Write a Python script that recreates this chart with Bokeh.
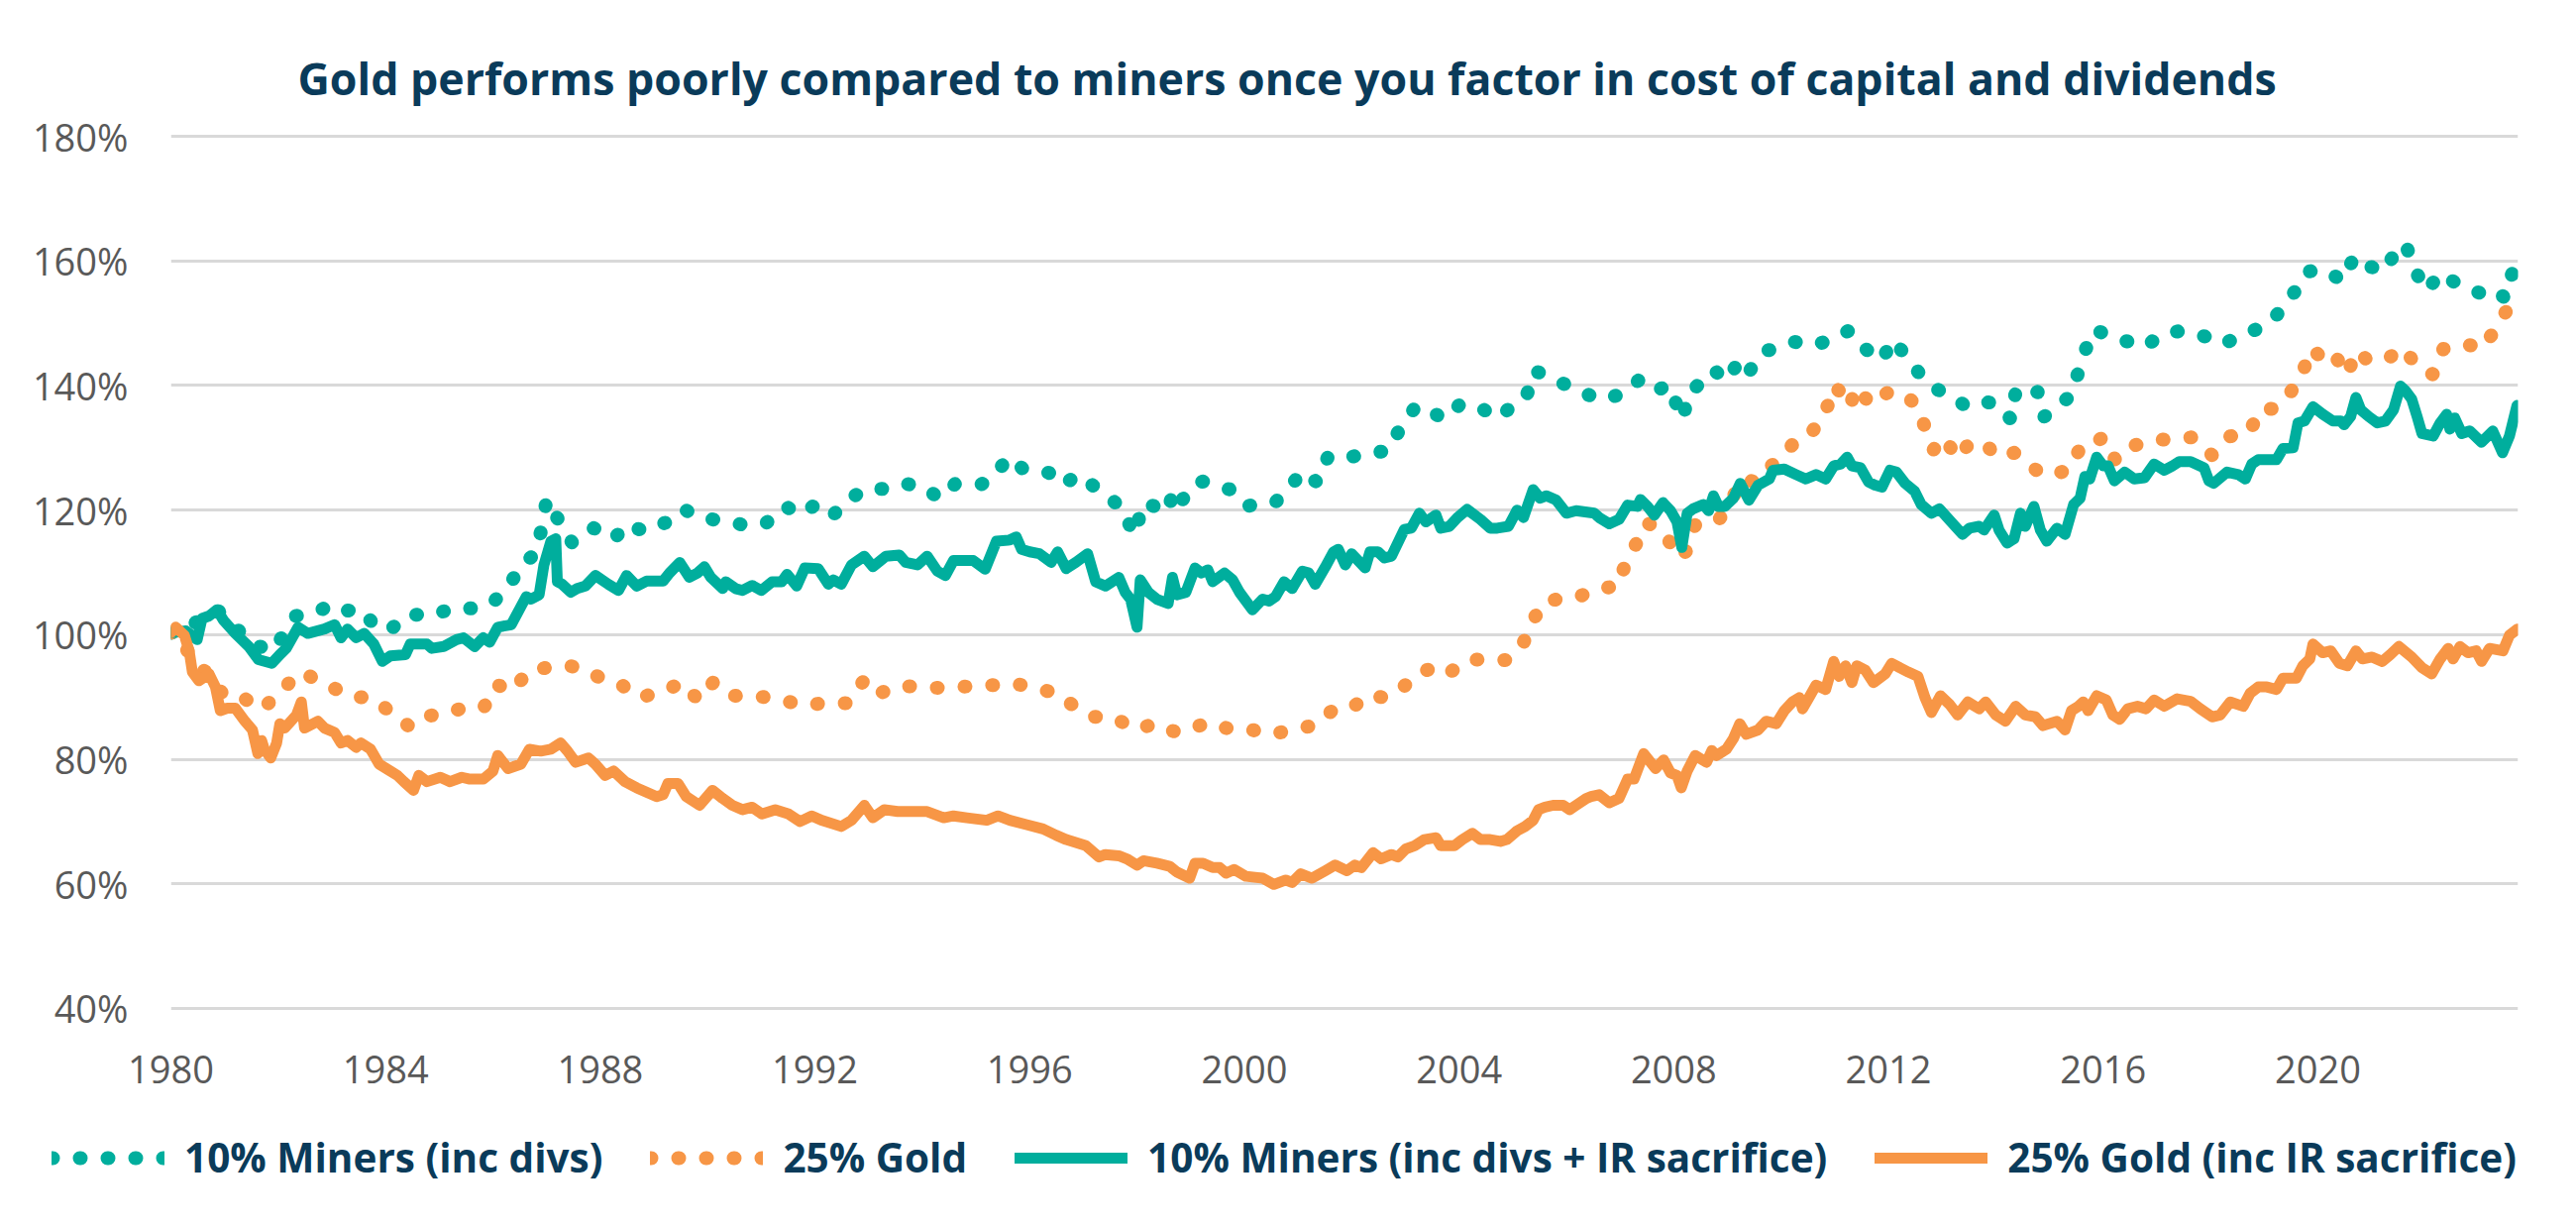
from bokeh.plotting import figure
from bokeh.layouts import column
from bokeh.models import (Range1d, FixedTicker, CustomJSTickFormatter,
                          Legend, LegendItem)
from bokeh.embed import file_html
from bokeh.resources import INLINE

TEAL = "#00AE9D"
ORANGE = "#F79646"
NAVY = "#0A3B5A"
GRAY = "#595959"

title_text = "Gold performs poorly compared to miners once you factor in cost of capital and dividends"
series_names = ["10% Miners (inc divs)", "25% Gold",
                "10% Miners (inc divs + IR sacrifice)", "25% Gold (inc IR sacrifice)"]
x_ticks = [1980, 1984, 1988, 1992, 1996, 2000, 2004, 2008, 2012, 2016, 2020]
y_ticks = [40, 60, 80, 100, 120, 140, 160, 180]

# ---- 10% Miners (inc divs) ----
miners_divs_year = [
    1980.00, 1980.28, 1980.55, 1980.71, 1980.86, 1981.20, 1981.50, 1981.91, 1982.06, 1982.33,
    1982.62, 1983.00, 1983.23, 1983.54, 1983.85, 1984.10, 1984.43, 1984.86, 1985.25, 1985.64,
    1985.95, 1986.29, 1986.52, 1986.80, 1986.91, 1987.00, 1987.11, 1987.48, 1987.88, 1988.26,
    1988.50, 1988.81, 1989.22, 1989.55, 1989.83, 1990.09, 1990.35, 1990.75, 1991.10, 1991.45,
    1991.73, 1992.07, 1992.36, 1992.66, 1992.97, 1993.27, 1993.60, 1993.99, 1994.32, 1994.61,
    1995.09, 1995.34, 1995.60, 1995.88, 1996.20, 1996.46, 1996.61, 1996.93, 1997.17, 1997.48,
    1997.73, 1997.91, 1998.01, 1998.06, 1998.21, 1998.58, 1998.68, 1998.85, 1999.05, 1999.23,
    1999.48, 1999.85, 2000.09, 2000.29, 2000.57, 2000.81, 2001.08, 2001.35, 2001.56, 2001.83,
    2002.08, 2002.31, 2002.66, 2002.91, 2003.19, 2003.48, 2003.68, 2004.04, 2004.42, 2004.74,
    2005.02, 2005.25, 2005.40, 2005.63, 2005.97, 2006.21, 2006.65, 2007.06, 2007.34, 2007.63,
    2007.91, 2008.09, 2008.17, 2008.28, 2008.58, 2008.74, 2009.01, 2009.22, 2009.41, 2009.67,
    2009.89, 2010.26, 2010.60, 2010.94, 2011.26, 2011.54, 2011.87, 2012.09, 2012.37, 2012.60,
    2012.83, 2013.17, 2013.46, 2013.77, 2014.03, 2014.29, 2014.37, 2014.56, 2014.78, 2014.89,
    2015.14, 2015.40, 2015.55, 2015.67, 2015.83, 2016.09, 2016.37, 2016.77, 2017.08, 2017.45,
    2017.89, 2018.20, 2018.57, 2018.76, 2019.05, 2019.33, 2019.58, 2019.80, 2020.12, 2020.46,
    2020.68, 2020.88, 2021.23, 2021.46, 2021.63, 2021.81, 2022.01, 2022.31, 2022.46, 2022.69,
    2023.01, 2023.30, 2023.49, 2023.63, 2023.72]
miners_divs_value = [
    100.3, 100.6, 102.6, 103.0, 104.0, 101.2, 98.5, 97.4, 99.5, 103.0,
    103.3, 104.8, 103.8, 104.1, 100.9, 100.9, 103.3, 103.0, 104.3, 104.2,
    104.8, 107.6, 111.2, 113.0, 117.2, 121.7, 120.0, 114.7, 117.1, 115.4,
    117.8, 116.6, 118.0, 120.2, 118.8, 118.5, 118.3, 117.4, 118.0, 120.6,
    119.3, 121.2, 119.4, 121.9, 123.5, 123.4, 124.3, 123.9, 121.9, 124.2,
    124.1, 125.4, 128.5, 126.6, 126.4, 125.7, 124.1, 125.7, 124.0, 121.9,
    120.4, 116.6, 116.2, 120.8, 121.0, 119.7, 123.5, 121.7, 124.2, 124.6,
    123.8, 123.1, 120.7, 121.1, 121.2, 123.3, 126.2, 124.5, 128.6, 128.3,
    128.7, 129.3, 129.4, 133.2, 136.6, 136.1, 134.6, 137.1, 136.3, 134.8,
    137.0, 138.1, 142.4, 141.6, 140.2, 139.2, 137.7, 138.7, 140.8, 139.0,
    140.1, 136.1, 134.6, 139.0, 140.8, 142.5, 140.8, 144.2, 142.3, 145.5,
    145.9, 147.0, 146.4, 147.4, 148.8, 146.1, 144.0, 147.4, 144.2, 141.7,
    139.7, 138.3, 136.6, 137.4, 137.1, 134.5, 139.0, 138.1, 139.0, 134.9,
    136.8, 138.3, 142.5, 145.7, 149.0, 148.1, 147.3, 146.2, 148.1, 148.8,
    147.9, 146.6, 147.9, 148.7, 149.7, 152.2, 155.2, 158.3, 158.6, 156.8,
    160.7, 159.4, 158.3, 161.6, 162.8, 158.6, 155.2, 158.1, 157.0, 156.0,
    154.9, 155.5, 154.0, 158.3, 158.6]

# ---- 25% Gold ----
gold_year = [
    1980.00, 1980.10, 1980.49, 1980.74, 1980.98, 1981.34, 1981.70, 1982.04, 1982.33, 1982.48,
    1982.71, 1983.09, 1983.35, 1983.72, 1984.03, 1984.42, 1984.60, 1985.00, 1985.40, 1985.83,
    1986.06, 1986.36, 1986.68, 1987.09, 1987.42, 1987.68, 1988.06, 1988.40, 1988.74, 1989.20,
    1989.52, 1989.83, 1990.11, 1990.46, 1990.93, 1991.32, 1991.78, 1992.15, 1992.60, 1992.90,
    1993.13, 1993.52, 1993.93, 1994.39, 1994.84, 1995.34, 1995.75, 1996.20, 1996.51, 1996.89,
    1997.21, 1997.54, 1997.98, 1998.34, 1998.74, 1999.03, 1999.34, 1999.74, 2000.09, 2000.52,
    2000.97, 2001.29, 2001.68, 2002.01, 2002.32, 2002.60, 2002.87, 2003.23, 2003.54, 2003.80,
    2004.17, 2004.50, 2004.87, 2005.18, 2005.38, 2005.61, 2005.86, 2006.18, 2006.55, 2006.97,
    2007.12, 2007.33, 2007.49, 2007.77, 2007.97, 2008.11, 2008.23, 2008.40, 2008.66, 2008.86,
    2009.11, 2009.25, 2009.54, 2009.83, 2010.03, 2010.33, 2010.55, 2010.75, 2010.90, 2011.00,
    2011.14, 2011.29, 2011.38, 2011.69, 2011.97, 2012.28, 2012.57, 2012.72, 2012.84, 2013.03,
    2013.29, 2013.51, 2013.78, 2014.03, 2014.34, 2014.54, 2014.86, 2015.17, 2015.40, 2015.58,
    2015.75, 2016.00, 2016.23, 2016.51, 2016.91, 2017.27, 2017.67, 2018.03, 2018.34, 2018.72,
    2018.92, 2019.18, 2019.46, 2019.71, 2019.86, 2020.14, 2020.29, 2020.55, 2020.71, 2020.94,
    2021.29, 2021.57, 2021.89, 2022.14, 2022.34, 2022.50, 2022.79, 2023.05, 2023.31, 2023.52,
    2023.72]
gold_value = [
    100.3, 100.6, 94.7, 93.7, 90.2, 89.9, 88.0, 90.9, 93.3, 94.0,
    92.6, 91.2, 90.0, 89.9, 88.0, 85.4, 86.9, 87.1, 88.1, 88.3,
    92.0, 91.0, 94.3, 94.8, 95.0, 94.5, 92.8, 91.9, 89.9, 91.0,
    92.3, 89.5, 92.4, 90.2, 90.1, 89.7, 88.6, 89.0, 89.0, 92.5,
    90.3, 91.7, 91.7, 91.4, 91.7, 91.9, 92.1, 91.2, 90.6, 88.1,
    86.8, 86.8, 84.8, 85.7, 84.3, 85.0, 85.9, 84.8, 84.8, 84.0,
    84.9, 85.4, 88.1, 88.3, 90.3, 89.9, 90.9, 93.7, 94.8, 93.8,
    95.9, 96.1, 95.9, 98.3, 102.4, 105.4, 105.7, 105.9, 107.3, 107.8,
    112.1, 115.0, 118.0, 116.8, 114.3, 112.3, 113.4, 117.6, 117.6, 118.7,
    122.1, 125.0, 124.5, 127.2, 128.8, 131.6, 132.3, 134.5, 137.4, 140.0,
    138.5, 136.6, 139.7, 136.9, 138.8, 138.8, 136.4, 132.1, 129.7, 131.7,
    128.3, 130.8, 130.8, 128.6, 129.2, 127.9, 125.7, 125.9, 126.8, 130.2,
    130.3, 131.7, 128.0, 130.2, 131.2, 131.4, 131.7, 128.8, 131.8, 132.4,
    136.1, 136.3, 138.5, 141.8, 145.9, 144.2, 145.2, 141.7, 145.6, 144.0,
    144.2, 146.1, 142.8, 141.8, 145.9, 145.9, 146.6, 145.9, 149.0, 152.1,
    153.0]

# ---- 10% Miners (inc divs + IR sacrifice) ----
miners_ir_year = [
    1980.00, 1980.28, 1980.49, 1980.58, 1980.71, 1980.86, 1980.98, 1981.20, 1981.45, 1981.63,
    1981.88, 1982.03, 1982.15, 1982.37, 1982.55, 1982.86, 1983.05, 1983.17, 1983.29, 1983.45,
    1983.60, 1983.78, 1983.94, 1984.09, 1984.37, 1984.46, 1984.77, 1984.86, 1985.08, 1985.32,
    1985.45, 1985.66, 1985.82, 1985.94, 1986.09, 1986.34, 1986.62, 1986.71, 1986.86, 1986.95,
    1987.08, 1987.17, 1987.20, 1987.29, 1987.45, 1987.57, 1987.72, 1987.91, 1988.15, 1988.34,
    1988.49, 1988.68, 1988.86, 1989.17, 1989.29, 1989.48, 1989.66, 1989.81, 1989.94, 1990.06,
    1990.28, 1990.34, 1990.52, 1990.65, 1990.83, 1991.00, 1991.20, 1991.38, 1991.48, 1991.66,
    1991.81, 1992.06, 1992.25, 1992.34, 1992.49, 1992.68, 1992.92, 1993.08, 1993.32, 1993.57,
    1993.69, 1993.91, 1994.09, 1994.28, 1994.43, 1994.58, 1994.95, 1995.17, 1995.38, 1995.63,
    1995.75, 1995.85, 1996.00, 1996.18, 1996.40, 1996.52, 1996.68, 1996.86, 1997.08, 1997.23,
    1997.41, 1997.66, 1997.78, 1997.88, 1998.00, 1998.06, 1998.21, 1998.37, 1998.58, 1998.66,
    1998.74, 1998.91, 1999.08, 1999.20, 1999.32, 1999.41, 1999.63, 1999.78, 1999.91, 2000.15,
    2000.34, 2000.46, 2000.58, 2000.74, 2000.89, 2001.08, 2001.20, 2001.32, 2001.51, 2001.66,
    2001.75, 2001.88, 2002.00, 2002.25, 2002.34, 2002.49, 2002.61, 2002.74, 2002.98, 2003.11,
    2003.26, 2003.38, 2003.57, 2003.66, 2003.82, 2003.97, 2004.15, 2004.40, 2004.58, 2004.71,
    2004.92, 2005.08, 2005.20, 2005.38, 2005.51, 2005.63, 2005.81, 2006.00, 2006.18, 2006.52,
    2006.61, 2006.80, 2006.98, 2007.14, 2007.32, 2007.38, 2007.51, 2007.64, 2007.80, 2007.94,
    2008.06, 2008.15, 2008.25, 2008.36, 2008.55, 2008.65, 2008.74, 2008.83, 2008.95, 2009.11,
    2009.24, 2009.40, 2009.57, 2009.78, 2009.85, 2010.06, 2010.28, 2010.46, 2010.65, 2010.83,
    2010.98, 2011.11, 2011.23, 2011.32, 2011.48, 2011.63, 2011.75, 2011.88, 2012.03, 2012.15,
    2012.31, 2012.49, 2012.61, 2012.80, 2012.95, 2013.17, 2013.38, 2013.51, 2013.69, 2013.78,
    2013.97, 2014.06, 2014.21, 2014.34, 2014.46, 2014.55, 2014.71, 2014.83, 2014.95, 2015.14,
    2015.29, 2015.45, 2015.57, 2015.66, 2015.75, 2015.88, 2016.00, 2016.09, 2016.21, 2016.40,
    2016.58, 2016.77, 2016.95, 2017.14, 2017.29, 2017.42, 2017.63, 2017.88, 2017.97, 2018.06,
    2018.31, 2018.52, 2018.65, 2018.77, 2018.89, 2019.05, 2019.23, 2019.35, 2019.54, 2019.63,
    2019.75, 2019.91, 2020.09, 2020.28, 2020.43, 2020.49, 2020.61, 2020.71, 2020.80, 2020.95,
    2021.11, 2021.26, 2021.41, 2021.54, 2021.63, 2021.75, 2021.85, 2021.94, 2022.15, 2022.28,
    2022.40, 2022.46, 2022.55, 2022.68, 2022.83, 2023.05, 2023.26, 2023.44, 2023.57, 2023.71]
miners_ir_value = [
    100.3, 100.6, 99.2, 102.6, 103.0, 104.0, 102.3, 100.2, 98.1, 96.0,
    95.4, 96.8, 97.8, 101.2, 100.2, 100.9, 101.6, 99.5, 100.9, 99.5,
    100.2, 98.5, 95.7, 96.6, 96.8, 98.5, 98.5, 97.8, 98.1, 99.2,
    99.5, 98.1, 99.5, 98.8, 101.2, 101.6, 106.1, 105.7, 106.4, 111.2,
    115.0, 115.4, 108.5, 108.1, 106.8, 107.4, 107.8, 109.5, 108.1, 107.1,
    109.5, 107.8, 108.6, 108.6, 109.9, 111.6, 109.2, 109.9, 110.9, 109.2,
    107.4, 108.5, 107.4, 107.1, 107.9, 107.1, 108.5, 108.5, 109.7, 107.8,
    110.7, 110.6, 108.1, 108.8, 108.1, 111.2, 112.6, 110.9, 112.6, 112.8,
    111.6, 111.2, 112.6, 110.2, 109.5, 111.9, 111.9, 110.5, 115.0, 115.2,
    115.7, 113.7, 113.3, 113.0, 111.6, 113.3, 110.6, 111.6, 113.0, 108.5,
    107.8, 109.2, 106.8, 105.7, 101.2, 108.8, 106.8, 105.7, 105.0, 109.2,
    106.4, 106.8, 110.7, 109.9, 110.4, 108.5, 109.9, 108.8, 106.8, 104.0,
    105.7, 105.4, 106.1, 108.5, 107.4, 110.2, 109.9, 108.1, 110.9, 113.3,
    113.7, 111.2, 113.0, 110.7, 113.3, 113.3, 112.3, 112.6, 116.9, 117.1,
    119.5, 118.1, 119.2, 117.1, 117.4, 118.8, 120.1, 118.5, 117.1, 117.1,
    117.4, 120.0, 118.8, 123.3, 121.9, 122.3, 121.6, 119.5, 119.9, 119.5,
    118.8, 117.8, 118.5, 120.8, 120.6, 121.7, 120.6, 119.2, 121.2, 119.9,
    118.1, 114.0, 119.5, 120.2, 120.9, 119.9, 122.3, 120.6, 120.6, 121.9,
    124.3, 121.6, 124.0, 125.0, 126.4, 126.6, 125.7, 125.0, 125.7, 125.0,
    127.1, 127.4, 128.5, 127.1, 126.8, 124.5, 124.0, 123.7, 126.4, 126.1,
    124.3, 123.0, 120.9, 119.5, 120.2, 118.1, 116.1, 117.1, 117.4, 116.8,
    119.2, 116.8, 114.7, 115.4, 119.5, 117.4, 120.6, 116.8, 115.0, 117.1,
    116.1, 120.9, 121.9, 125.4, 125.0, 128.5, 127.1, 127.1, 124.7, 126.1,
    125.0, 125.2, 127.4, 126.4, 127.1, 127.8, 127.8, 126.8, 124.7, 124.3,
    126.1, 125.7, 125.0, 127.4, 128.1, 128.1, 128.1, 129.9, 130.0, 134.0,
    134.3, 136.6, 135.4, 134.3, 134.3, 133.7, 135.0, 138.1, 136.1, 135.0,
    134.0, 134.3, 136.1, 139.9, 139.2, 137.8, 135.0, 132.3, 131.9, 134.0,
    135.4, 133.0, 134.8, 132.3, 132.7, 130.9, 132.7, 129.2, 131.9, 136.8]

# ---- 25% Gold (inc IR sacrifice) ----
gold_ir_year = [
    1980.00, 1980.09, 1980.25, 1980.34, 1980.40, 1980.52, 1980.71, 1980.83, 1980.92, 1981.05,
    1981.20, 1981.38, 1981.52, 1981.62, 1981.69, 1981.74, 1981.86, 1981.97, 1982.03, 1982.12,
    1982.34, 1982.43, 1982.49, 1982.74, 1982.86, 1983.05, 1983.17, 1983.29, 1983.45, 1983.54,
    1983.72, 1983.88, 1984.09, 1984.22, 1984.34, 1984.52, 1984.62, 1984.77, 1985.02, 1985.20,
    1985.42, 1985.57, 1985.82, 1986.00, 1986.09, 1986.28, 1986.52, 1986.68, 1986.89, 1987.08,
    1987.26, 1987.39, 1987.54, 1987.78, 1987.91, 1988.09, 1988.25, 1988.46, 1988.68, 1988.86,
    1989.05, 1989.17, 1989.26, 1989.45, 1989.60, 1989.85, 1990.09, 1990.28, 1990.46, 1990.65,
    1990.83, 1991.01, 1991.26, 1991.51, 1991.72, 1991.94, 1992.12, 1992.49, 1992.68, 1992.92,
    1993.08, 1993.29, 1993.54, 1993.78, 1994.09, 1994.40, 1994.58, 1994.83, 1995.20, 1995.41,
    1995.63, 1995.94, 1996.25, 1996.49, 1996.68, 1997.05, 1997.29, 1997.41, 1997.66, 1997.81,
    1998.00, 1998.12, 1998.37, 1998.61, 1998.74, 1998.98, 1999.08, 1999.23, 1999.41, 1999.54,
    1999.66, 1999.81, 2000.03, 2000.34, 2000.55, 2000.77, 2000.89, 2001.05, 2001.26, 2001.51,
    2001.69, 2001.91, 2002.06, 2002.18, 2002.40, 2002.55, 2002.74, 2002.86, 2003.01, 2003.17,
    2003.35, 2003.57, 2003.66, 2003.91, 2004.06, 2004.25, 2004.40, 2004.58, 2004.77, 2004.89,
    2005.08, 2005.23, 2005.38, 2005.48, 2005.60, 2005.75, 2005.94, 2006.06, 2006.18, 2006.37,
    2006.46, 2006.61, 2006.80, 2006.98, 2007.14, 2007.26, 2007.44, 2007.66, 2007.81, 2007.94,
    2008.06, 2008.14, 2008.25, 2008.40, 2008.61, 2008.71, 2008.80, 2008.98, 2009.11, 2009.23,
    2009.35, 2009.57, 2009.72, 2009.91, 2010.06, 2010.21, 2010.34, 2010.40, 2010.52, 2010.65,
    2010.83, 2010.98, 2011.08, 2011.20, 2011.32, 2011.41, 2011.57, 2011.72, 2011.94, 2012.06,
    2012.21, 2012.37, 2012.55, 2012.68, 2012.80, 2012.97, 2013.14, 2013.29, 2013.48, 2013.69,
    2013.81, 2014.00, 2014.18, 2014.37, 2014.55, 2014.74, 2014.88, 2015.14, 2015.29, 2015.41,
    2015.54, 2015.63, 2015.72, 2015.88, 2016.06, 2016.18, 2016.31, 2016.46, 2016.64, 2016.80,
    2016.95, 2017.14, 2017.38, 2017.63, 2017.81, 2018.03, 2018.18, 2018.37, 2018.61, 2018.74,
    2018.89, 2019.05, 2019.23, 2019.35, 2019.60, 2019.72, 2019.85, 2019.91, 2020.09, 2020.24,
    2020.40, 2020.55, 2020.71, 2020.83, 2021.01, 2021.20, 2021.35, 2021.51, 2021.75, 2021.94,
    2022.12, 2022.28, 2022.43, 2022.52, 2022.65, 2022.80, 2022.95, 2023.05, 2023.20, 2023.45,
    2023.57, 2023.72]
gold_ir_value = [
    100.3, 101.2, 99.9, 97.4, 94.0, 92.6, 93.7, 91.6, 87.8, 88.2,
    88.2, 86.1, 84.7, 80.9, 83.0, 81.6, 80.2, 82.6, 85.7, 85.0,
    87.1, 89.2, 85.0, 86.1, 85.0, 84.3, 82.6, 83.0, 81.9, 82.6,
    81.6, 79.2, 78.1, 77.4, 76.4, 75.0, 77.4, 76.4, 77.1, 76.4,
    77.1, 76.8, 76.8, 78.1, 80.6, 78.5, 79.2, 81.6, 81.3, 81.6,
    82.6, 81.3, 79.5, 80.2, 79.2, 77.4, 78.1, 76.4, 75.4, 74.7,
    74.0, 74.3, 76.1, 76.1, 74.0, 72.6, 75.0, 73.7, 72.6, 71.9,
    72.3, 71.2, 71.9, 71.2, 70.0, 70.9, 70.2, 69.2, 70.2, 72.6,
    70.6, 71.9, 71.6, 71.6, 71.6, 70.6, 70.9, 70.6, 70.2, 70.9,
    70.2, 69.5, 68.8, 67.8, 67.1, 66.1, 64.3, 64.7, 64.5, 64.0,
    63.0, 63.7, 63.3, 62.8, 61.9, 60.9, 63.3, 63.3, 62.6, 62.6,
    61.7, 62.3, 61.2, 60.9, 59.9, 60.6, 60.2, 61.6, 60.9, 62.1,
    63.0, 62.1, 63.0, 62.6, 65.0, 64.0, 64.7, 64.3, 65.6, 66.1,
    67.1, 67.4, 66.1, 66.1, 67.1, 68.1, 67.1, 67.1, 66.8, 67.1,
    68.5, 69.2, 70.2, 71.9, 72.3, 72.6, 72.6, 71.9, 72.6, 73.7,
    74.0, 74.3, 73.0, 73.7, 76.8, 76.8, 80.9, 78.5, 79.9, 77.8,
    77.4, 75.4, 78.1, 80.6, 79.5, 81.4, 80.6, 81.6, 83.3, 85.7,
    84.0, 84.7, 86.1, 85.7, 87.8, 89.2, 89.9, 88.1, 89.9, 91.9,
    91.2, 95.7, 93.3, 95.0, 92.3, 95.0, 94.3, 92.3, 93.7, 95.4,
    94.7, 94.0, 93.3, 89.9, 87.5, 90.2, 88.8, 87.1, 89.2, 88.1,
    89.2, 87.1, 86.1, 88.5, 87.1, 86.8, 85.4, 86.1, 84.7, 87.8,
    88.5, 89.2, 87.8, 90.2, 89.5, 87.1, 86.4, 88.1, 88.5, 88.1,
    89.5, 88.5, 89.7, 89.3, 88.1, 86.8, 87.1, 89.2, 88.5, 90.6,
    91.6, 91.6, 91.2, 93.0, 93.0, 95.0, 96.1, 98.5, 97.1, 97.4,
    95.4, 95.0, 97.4, 96.1, 96.4, 95.7, 96.8, 98.1, 96.4, 94.7,
    93.7, 96.1, 97.8, 96.1, 98.1, 97.1, 97.4, 95.7, 97.8, 97.4,
    99.9, 100.9]

W = 2580
H_MAIN = 1120
H_LEG = 100
FRAME_TOP = 134
FRAME_BOTTOM = 1020

p = figure(width=W, height=H_MAIN, output_backend="svg", toolbar_location=None,
           x_range=Range1d(1980.0, 2023.73), y_range=Range1d(39.5, 180.5),
           min_border_left=172, min_border_right=39, min_border_top=FRAME_TOP,
           min_border_bottom=H_MAIN - FRAME_BOTTOM, title=title_text)
p.outline_line_color = None
p.background_fill_color = "white"
p.border_fill_color = "white"

p.title.text_font = "Open Sans"
p.title.text_font_style = "bold"
p.title.text_font_size = "44.7px"
p.title.text_color = NAVY
p.title.align = "left"
p.title.offset = 128
p.title.standoff = 52

p.xgrid.visible = False
p.ygrid.grid_line_color = "#D9D9D9"
p.ygrid.grid_line_width = 3

for ax in (p.xaxis[0], p.yaxis[0]):
    ax.axis_line_color = None
    ax.major_tick_line_color = None
    ax.minor_tick_line_color = None
    ax.major_label_text_font = "Open Sans"
    ax.major_label_text_font_size = "38px"
    ax.major_label_text_color = GRAY

p.yaxis.ticker = FixedTicker(ticks=y_ticks)
p.yaxis.formatter = CustomJSTickFormatter(code="return tick.toFixed(0) + '%';")
p.yaxis.major_label_standoff = 37
p.xaxis.ticker = FixedTicker(ticks=x_ticks)
p.xaxis.formatter = CustomJSTickFormatter(code="return tick.toFixed(0);")
p.xaxis.major_label_standoff = 38

styles = [dict(line_color=TEAL, line_width=14, line_dash="1 27", line_cap="round", line_join="round"),
          dict(line_color=ORANGE, line_width=14, line_dash="1 27", line_cap="round", line_join="round"),
          dict(line_color=TEAL, line_width=11, line_cap="round", line_join="round"),
          dict(line_color=ORANGE, line_width=11, line_cap="round", line_join="round")]
data = [(miners_divs_year, miners_divs_value), (gold_year, gold_value),
        (miners_ir_year, miners_ir_value), (gold_ir_year, gold_ir_value)]
for (xs, ys), st in zip(data, styles):
    p.line(xs, ys, **st)

# legend strip below the chart (series drawn off-view; only the legend shows)
pl = figure(width=W, height=H_LEG, output_backend="svg", toolbar_location=None,
            x_axis_type=None, y_axis_type=None, min_border=0,
            x_range=Range1d(0, 1), y_range=Range1d(0, 1))
pl.outline_line_color = None
pl.xgrid.visible = False
pl.ygrid.visible = False
try:
    pl.frame_align = False
    p.frame_align = False
except Exception:
    pass
legend_renderers = [pl.line(xs, ys, **st) for (xs, ys), st in zip(data, styles)]
legend = Legend(items=[LegendItem(label=n, renderers=[r])
                       for n, r in zip(series_names, legend_renderers)],
                location=(52, 25), orientation="horizontal", padding=0, margin=0,
                spacing=48, glyph_width=114, glyph_height=20, label_standoff=20,
                label_text_font="Open Sans", label_text_font_style="bold",
                label_text_font_size="40.5px", label_text_color=NAVY,
                border_line_alpha=0, background_fill_alpha=0)
pl.add_layout(legend)

layout = column(p, pl, spacing=0)
open("out.html", "w").write(file_html(layout, INLINE))
